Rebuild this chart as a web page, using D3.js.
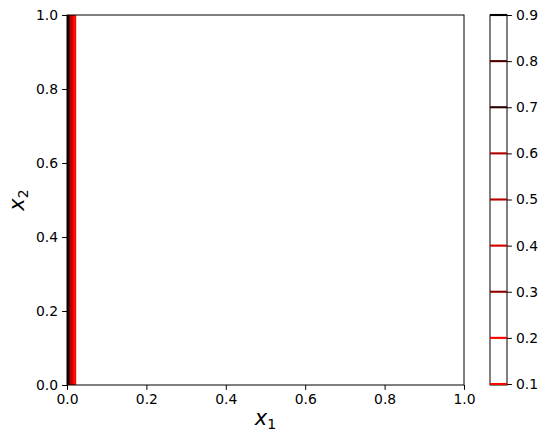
<!DOCTYPE html>
<html>
<head>
<meta charset="utf-8">
<script src="https://cdn.jsdelivr.net/npm/d3@7"></script>
<style>
body { margin: 0; background: #fff; }
svg text { font-family: "DejaVu Sans", sans-serif; fill: #000; }
</style>
</head>
<body>
<svg width="549" height="444"></svg>
<script>
// contour levels and the x1 position where each level line sits
var levels = [0.1, 0.2, 0.3, 0.4, 0.5, 0.6, 0.7, 0.8, 0.9];
var levelX = [0.0205, 0.0152, 0.0113, 0.0088, 0.0067, 0.0050, 0.0035, 0.0022, 0.0011];
var levelColors = ['#ff0000', '#ff0000', '#8f0000', '#d00000', '#b50000', '#b00000', '#2b0000', '#4d0000', '#000000'];
var axisTicks = [0, 0.2, 0.4, 0.6, 0.8, 1.0];

var svg = d3.select("svg"),
	margin = {top: 15, left: 67},
	width = 397,
	height = 370;

var x = d3.scaleLinear().domain([0, 1]).range([margin.left, margin.left + width]);
var y = d3.scaleLinear().domain([0, 1]).range([margin.top + height, margin.top]);

svg.append("clipPath").attr("id", "clip")
	.append("rect")
	.attr("x", margin.left).attr("y", margin.top)
	.attr("width", width).attr("height", height);

var line = d3.line()
	.x(function(d) { return x(d[0]); })
	.y(function(d) { return y(d[1]); });

var g = svg.append("g").attr("clip-path", "url(#clip)");
levels.forEach(function(lv, i) {
	g.append("path")
		.datum([[levelX[i], 0], [levelX[i], 1]])
		.attr("fill", "none")
		.attr("stroke", levelColors[i])
		.attr("stroke-width", 2.1)
		.attr("d", line);
});

function styleAxis(sel) {
	sel.selectAll("text").style("font-size", "13.9px").style("font-family", "DejaVu Sans");
	sel.selectAll("line").attr("stroke", "#000").attr("stroke-width", 1);
	sel.select(".domain").remove();
}

svg.append("g")
	.attr("transform", "translate(0," + (margin.top + height) + ")")
	.call(d3.axisBottom(x).tickValues(axisTicks).tickFormat(d3.format(".1f")).tickSize(4.9).tickPadding(4))
	.call(styleAxis);

svg.append("g")
	.attr("transform", "translate(" + margin.left + ",0)")
	.call(d3.axisLeft(y).tickValues(axisTicks).tickFormat(d3.format(".1f")).tickSize(4.9).tickPadding(4))
	.call(styleAxis);

svg.append("rect")
	.attr("x", margin.left).attr("y", margin.top)
	.attr("width", width).attr("height", height)
	.attr("fill", "none").attr("stroke", "#000").attr("stroke-width", 1);

// axis labels
var xl = svg.append("text")
	.attr("x", x(0.5)).attr("y", 425)
	.attr("text-anchor", "middle")
	.style("font-size", "21px")
	.style("font-style", "italic");
xl.append("tspan").text("x");
xl.append("tspan").attr("dy", 4).style("font-size", "14px").style("font-style", "normal").text("1");

var yl = svg.append("text")
	.attr("transform", "translate(24," + y(0.5) + ") rotate(-90)")
	.attr("text-anchor", "middle")
	.style("font-size", "21px")
	.style("font-style", "italic");
yl.append("tspan").text("x");
yl.append("tspan").attr("dy", 4).style("font-size", "14px").style("font-style", "normal").text("2");

// colorbar
var cb = {left: 490, width: 17};
var c = d3.scaleLinear().domain([0.1, 0.9]).range([margin.top + height - 1, margin.top]);

svg.append("g")
	.attr("transform", "translate(" + (cb.left + cb.width) + ",0)")
	.call(d3.axisRight(c).tickValues(levels).tickFormat(d3.format(".1f")).tickSize(4.9).tickPadding(4))
	.call(styleAxis);

svg.append("rect")
	.attr("x", cb.left).attr("y", margin.top)
	.attr("width", cb.width).attr("height", height)
	.attr("fill", "none").attr("stroke", "#000").attr("stroke-width", 1);

svg.append("g")
	.selectAll("line")
	.data(levels)
	.enter().append("line")
	.attr("x1", cb.left).attr("x2", cb.left + cb.width)
	.attr("y1", function(d) { return c(d); })
	.attr("y2", function(d) { return c(d); })
	.attr("stroke", function(d, i) { return levelColors[i]; })
	.attr("stroke-width", 2.1);
</script>
</body>
</html>
